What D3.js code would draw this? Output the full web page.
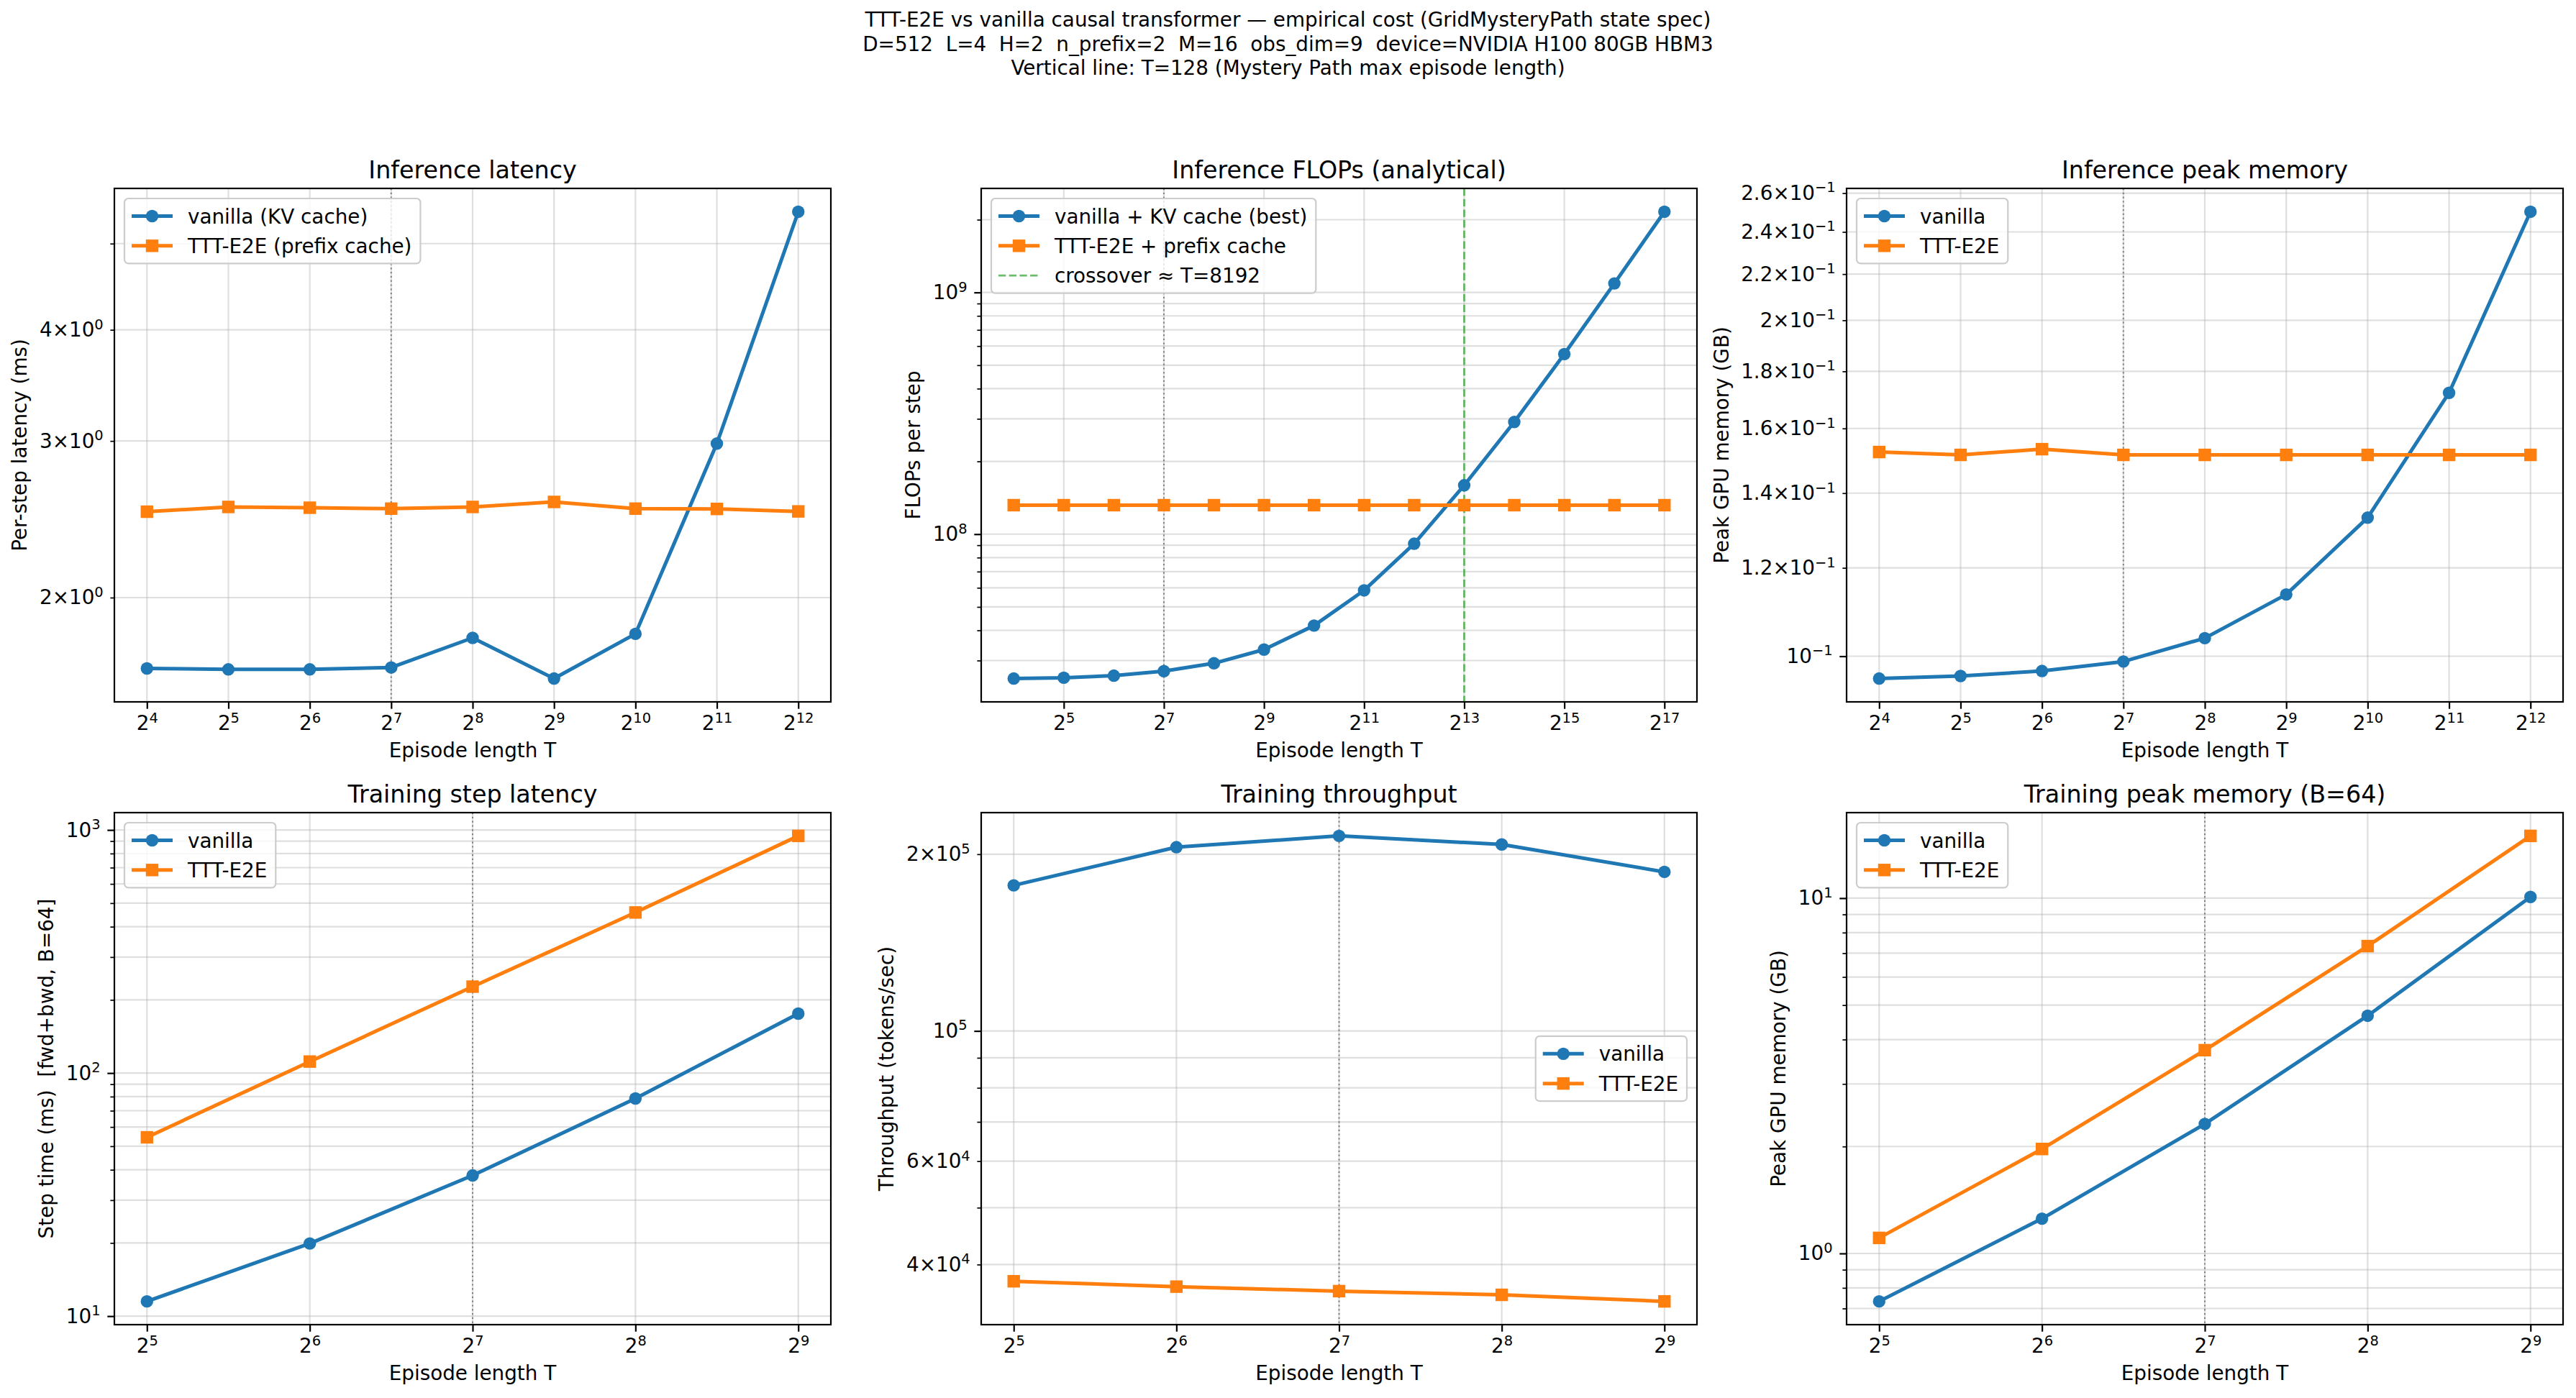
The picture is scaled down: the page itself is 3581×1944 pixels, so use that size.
<!DOCTYPE html>
<html>
<head>
<meta charset="utf-8">
<script src="https://cdn.jsdelivr.net/npm/d3@7"></script>
<style>
    body { margin: 0; background: #fff; }
    svg text { font-family: "DejaVu Sans", sans-serif; fill: #000; white-space: pre; }
</style>
</head>
<body>
<div id="chart"></div>
<script>
'use strict';

/* ---- Data ---- */

// Suptitle
const titleLines = [
    'TTT-E2E vs vanilla causal transformer \u2014 empirical cost (GridMysteryPath state spec)',
    'D=512  L=4  H=2  n_prefix=2  M=16  obs_dim=9  device=NVIDIA H100 80GB HBM3',
    'Vertical line: T=128 (Mystery Path max episode length)'
];

// Episode lengths
const infT = [16, 32, 64, 128, 256, 512, 1024, 2048, 4096];
const flopsT = [16, 32, 64, 128, 256, 512, 1024, 2048, 4096, 8192, 16384, 32768, 65536, 131072];
const trainT = [32, 64, 128, 256, 512];

// Inference latency (ms)
const infLatVanilla = [1.665, 1.661, 1.661, 1.669, 1.802, 1.622, 1.821, 2.98, 5.43];
const infLatTTT = [2.498, 2.529, 2.524, 2.518, 2.529, 2.562, 2.518, 2.516, 2.500];

// Inference FLOPs per step
const flopsVanilla = [2.527e7, 2.547e7, 2.597e7, 2.712e7, 2.923e7, 3.331e7, 4.186e7, 5.853e7,
    9.13e7, 1.593e8, 2.911e8, 5.56e8, 1.09e9, 2.157e9];
const flopsTTT = [1.318e8, 1.318e8, 1.318e8, 1.318e8, 1.318e8, 1.318e8, 1.318e8, 1.318e8,
    1.318e8, 1.318e8, 1.318e8, 1.318e8, 1.318e8, 1.318e8];
const crossoverT = 8192;

// Inference peak memory (GB)
const infMemVanilla = [0.0955, 0.0960, 0.0970, 0.0989, 0.1038, 0.1136, 0.1331, 0.1722, 0.2502];
const infMemTTT = [0.1524, 0.1515, 0.1533, 0.1515, 0.1515, 0.1515, 0.1515, 0.1515, 0.1515];

// Training step latency (ms)
const stepVanilla = [11.5, 19.9, 37.9, 78.6, 175.6];
const stepTTT = [54.4, 111.5, 226.7, 457.7, 945.4];

// Training throughput (tokens/sec)
const thrVanilla = [1.770e5, 2.056e5, 2.149e5, 2.078e5, 1.866e5];
const thrTTT = [3.746e4, 3.668e4, 3.604e4, 3.552e4, 3.462e4];

// Training peak memory (GB)
const trainMemVanilla = [0.733, 1.253, 2.315, 4.667, 10.08];
const trainMemTTT = [1.106, 1.968, 3.734, 7.33, 14.97];

// Reference line
const refT = 128;

// X ticks
const infXTicks = infT;
const infXLabels = ['2^4', '2^5', '2^6', '2^7', '2^8', '2^9', '2^10', '2^11', '2^12'];
const flopsXTicks = [32, 128, 512, 2048, 8192, 32768, 131072];
const flopsXLabels = ['2^5', '2^7', '2^9', '2^11', '2^13', '2^15', '2^17'];
const trainXTicks = trainT;
const trainXLabels = ['2^5', '2^6', '2^7', '2^8', '2^9'];

// Y ticks
const infLatYMinor = [2, 3, 4, 5];
const infLatYMinorLabels = ['2\u00d710^0', '3\u00d710^0', '4\u00d710^0', ''];

const flopsYMajor = [1e8, 1e9];
const flopsYMajorLabels = ['10^8', '10^9'];
const flopsYMinor = [2e7, 3e7, 4e7, 5e7, 6e7, 7e7, 8e7, 9e7, 2e8, 3e8, 4e8, 5e8, 6e8, 7e8, 8e8, 9e8, 2e9, 3e9];

const infMemYMajor = [0.1];
const infMemYMajorLabels = ['10^\u22121'];
const infMemYMinor = [0.12, 0.14, 0.16, 0.18, 0.2, 0.22, 0.24, 0.26];
const infMemYMinorLabels = ['1.2\u00d710^\u22121', '1.4\u00d710^\u22121', '1.6\u00d710^\u22121', '1.8\u00d710^\u22121',
    '2\u00d710^\u22121', '2.2\u00d710^\u22121', '2.4\u00d710^\u22121', '2.6\u00d710^\u22121'];

const stepYMajor = [10, 100, 1000];
const stepYMajorLabels = ['10^1', '10^2', '10^3'];
const stepYMinor = [20, 30, 40, 50, 60, 70, 80, 90, 200, 300, 400, 500, 600, 700, 800, 900];

const thrYMajor = [1e5];
const thrYMajorLabels = ['10^5'];
const thrYMinor = [3e4, 4e4, 5e4, 6e4, 7e4, 8e4, 9e4, 2e5, 3e5];
const thrYMinorLabels = ['', '4\u00d710^4', '', '6\u00d710^4', '', '', '', '2\u00d710^5', ''];

const trainMemYMajor = [1, 10];
const trainMemYMajorLabels = ['10^0', '10^1'];
const trainMemYMinor = [0.6, 0.7, 0.8, 0.9, 2, 3, 4, 5, 6, 7, 8, 9, 20];


/* ---- Style ---- */
const FS = 27.8;          // 10pt at 200 dpi
const FS_TITLE = 33.3;    // 12pt
const BLUE = '#1f77b4';
const ORANGE = '#ff7f0e';
const GREEN = '#2ca02c';


/*
writeMath - base text with one superscript ("a^b")
*/
function writeMath(sel, str) {
    sel.text(null);
    if (!str) return;
    const parts = str.split('^');
    sel.append('tspan').text(parts[0]);
    if (parts.length > 1) {
        sel.append('tspan')
            .attr('dy', -10.5)
            .attr('font-size', FS * 0.7)
            .text(parts[1]);
    }
}


/* `````````````````````````````````\
    Class: CostPanel                |
 ``````````````````````````````````*/
class CostPanel {

    constructor(_svg, _cfg) {
        this.svg = _svg;
        this.cfg = _cfg;
        this.initVis();
    }

    /*
    initVis
    */
    initVis() {
        const vis = this;
        const c = vis.cfg;

        // Axes box
        [vis.left, vis.top, vis.right, vis.bottom] = c.box;
        vis.w = vis.right - vis.left;
        vis.h = vis.bottom - vis.top;

        vis.g = vis.svg.append('g')
            .attr('transform', `translate(${vis.left},${vis.top})`);

        // X scale (log2, 5% margin)
        const lx = c.x.map(Math.log2);
        const xLo = d3.min(lx), xHi = d3.max(lx);
        const xPad = 0.05 * (xHi - xLo);
        vis.x = d3.scaleLog().base(2)
            .domain([2 ** (xLo - xPad), 2 ** (xHi + xPad)])
            .range([0, vis.w]);

        // Y scale (log10, 5% margin)
        const ly = c.series.flatMap(s => s.values).map(Math.log10);
        const yLo = d3.min(ly), yHi = d3.max(ly);
        const yPad = 0.05 * (yHi - yLo);
        vis.y = d3.scaleLog()
            .domain([10 ** (yLo - yPad), 10 ** (yHi + yPad)])
            .range([vis.h, 0]);

        vis.updateVis();
    }

    /*
    updateVis
    */
    updateVis() {
        const vis = this;
        const c = vis.cfg;
        const [yMin, yMax] = vis.y.domain();
        const inY = v => v >= yMin && v <= yMax;

        const yMajor = (c.yMajor || []).filter(inY);
        const yMinor = (c.yMinor || []).filter(inY);
        const labelOf = new Map();
        (c.yMajor || []).forEach((v, i) => labelOf.set(v, c.yMajorLabels ? c.yMajorLabels[i] : ''));
        (c.yMinor || []).forEach((v, i) => labelOf.set(v, c.yMinorLabels ? c.yMinorLabels[i] : ''));

        // Grid
        const grid = vis.g.append('g')
            .attr('stroke', '#b0b0b0')
            .attr('stroke-opacity', 0.4)
            .attr('stroke-width', 2.2);
        grid.selectAll('.gy')
            .data(yMajor.concat(yMinor))
            .join('line')
            .attr('x1', 0).attr('x2', vis.w)
            .attr('y1', d => vis.y(d)).attr('y2', d => vis.y(d));
        grid.selectAll('.gx')
            .data(c.xTicks)
            .join('line')
            .attr('y1', 0).attr('y2', vis.h)
            .attr('x1', d => vis.x(d)).attr('x2', d => vis.x(d));

        // Reference line T=128
        vis.g.append('line')
            .attr('x1', vis.x(refT)).attr('x2', vis.x(refT))
            .attr('y1', 0).attr('y2', vis.h)
            .attr('stroke', '#808080')
            .attr('stroke-width', 2)
            .attr('stroke-dasharray', '2.2,3.6');

        // Crossover line
        if (c.crossover) {
            vis.g.append('line')
                .attr('x1', vis.x(c.crossover)).attr('x2', vis.x(c.crossover))
                .attr('y1', 0).attr('y2', vis.h)
                .attr('stroke', GREEN)
                .attr('stroke-opacity', 0.7)
                .attr('stroke-width', 2.8)
                .attr('stroke-dasharray', '10.3,4.4');
        }

        // Series
        const line = d3.line()
            .x(d => vis.x(d[0]))
            .y(d => vis.y(d[1]));
        c.series.forEach(s => {
            const pts = c.x.map((t, i) => [t, s.values[i]]);
            const sg = vis.g.append('g');
            sg.append('path')
                .attr('d', line(pts))
                .attr('fill', 'none')
                .attr('stroke', s.color)
                .attr('stroke-width', 5)
                .attr('stroke-linejoin', 'round');
            pts.forEach(p => vis.drawMarker(sg, vis.x(p[0]), vis.y(p[1]), s));
        });

        // Spines
        vis.g.append('rect')
            .attr('width', vis.w)
            .attr('height', vis.h)
            .attr('fill', 'none')
            .attr('stroke', '#000')
            .attr('stroke-width', 2.2);

        // X axis
        const xAxis = vis.g.append('g')
            .attr('transform', `translate(0,${vis.h})`)
            .call(d3.axisBottom(vis.x)
                .tickValues(c.xTicks)
                .tickSize(9.7)
                .tickPadding(9.7)
                .tickFormat(() => ''));
        xAxis.select('.domain').remove();
        xAxis.attr('font-size', FS).attr('font-family', null);
        xAxis.selectAll('.tick line').attr('stroke-width', 2.2);
        xAxis.selectAll('.tick text').each(function(d, i) {
            writeMath(d3.select(this), c.xLabels[i]);
        });

        // Y axis (major + minor)
        const yAxes = [[yMajor, 9.7, 2.2], [yMinor, 5.6, 1.7]].map(([vals, len, sw]) => {
            const ax = vis.g.append('g')
                .call(d3.axisLeft(vis.y)
                    .tickValues(vals)
                    .tickSize(len)
                    .tickPadding(9.7)
                    .tickFormat(() => ''));
            ax.select('.domain').remove();
            ax.attr('font-size', FS).attr('font-family', null);
            ax.selectAll('.tick line').attr('stroke-width', sw);
            ax.selectAll('.tick text').each(function(d) {
                writeMath(d3.select(this), labelOf.get(d));
            });
            return ax;
        });

        // Leftmost tick label edge
        let labelsLeft = -15;
        yAxes.forEach(ax => ax.selectAll('.tick text').each(function() {
            if (this.textContent) labelsLeft = Math.min(labelsLeft, this.getBBox().x);
        }));

        // Axis labels
        vis.g.append('text')
            .attr('x', vis.w / 2)
            .attr('y', vis.h + 77)
            .attr('text-anchor', 'middle')
            .attr('font-size', FS)
            .text('Episode length T');
        vis.g.append('text')
            .attr('transform', `translate(${labelsLeft - 11 - 6.6},${vis.h / 2}) rotate(-90)`)
            .attr('text-anchor', 'middle')
            .attr('font-size', FS)
            .attr('xml:space', 'preserve')
            .text(c.ylabel);

        // Title
        vis.g.append('text')
            .attr('x', vis.w / 2)
            .attr('y', -14)
            .attr('text-anchor', 'middle')
            .attr('font-size', FS_TITLE)
            .text(c.title);

        vis.drawLegend();
    }

    /*
    drawMarker
    */
    drawMarker(sel, cx, cy, s) {
        if (s.marker === 'circle') {
            sel.append('circle')
                .attr('cx', cx).attr('cy', cy).attr('r', 8.7)
                .attr('fill', s.color);
        } else if (s.marker === 'square') {
            sel.append('rect')
                .attr('x', cx - 8.7).attr('y', cy - 8.7)
                .attr('width', 17.4).attr('height', 17.4)
                .attr('fill', s.color);
        }
    }

    /*
    drawLegend
    */
    drawLegend() {
        const vis = this;
        const c = vis.cfg;
        const entries = c.series.slice();
        if (c.crossover) entries.push(c.crossoverEntry);

        const rowH = 41.3;
        const lg = vis.g.append('g');
        const frame = lg.append('rect');

        let textW = 0;
        entries.forEach((e, i) => {
            const cy = 24.5 + i * rowH;
            lg.append('line')
                .attr('x1', 10).attr('x2', 67)
                .attr('y1', cy).attr('y2', cy)
                .attr('stroke', e.color)
                .attr('stroke-opacity', e.dashed ? 0.7 : 1)
                .attr('stroke-width', e.dashed ? 2.8 : 5)
                .attr('stroke-dasharray', e.dashed ? '10.3,4.4' : null);
            vis.drawMarker(lg, 38.5, cy, e);
            const t = lg.append('text')
                .attr('x', 88)
                .attr('y', cy + 10)
                .attr('font-size', FS)
                .text(e.name);
            textW = Math.max(textW, t.node().getComputedTextLength());
        });

        const boxW = 88 + textW + 12;
        const boxH = 49 + (entries.length - 1) * rowH;
        frame.attr('width', boxW).attr('height', boxH)
            .attr('rx', 5.5)
            .attr('fill', '#fff').attr('fill-opacity', 0.8)
            .attr('stroke', '#cccccc').attr('stroke-width', 2.2);

        let lx = 14, ly = 14;
        if (c.legend === 'center right') {
            lx = vis.w - 14 - boxW;
            ly = vis.h / 2 - boxH / 2;
        }
        lg.attr('transform', `translate(${lx},${ly})`);
    }
}


/* ---- Build figure ---- */
const svg = d3.select('#chart')
    .append('svg')
    .attr('width', 3581)
    .attr('height', 1944);

svg.append('rect')
    .attr('width', 3581)
    .attr('height', 1944)
    .attr('fill', '#fff');

svg.append('g')
    .selectAll('text')
    .data(titleLines)
    .join('text')
    .attr('x', 3581 / 2)
    .attr('y', (d, i) => 37 + i * 33.5)
    .attr('text-anchor', 'middle')
    .attr('font-size', FS)
    .attr('xml:space', 'preserve')
    .text(d => d);

const cols = [[159, 1155], [1364, 2359], [2567, 3563]];
const rows = [[262, 976], [1130, 1842]];
const box = (r, k) => [cols[k][0], rows[r][0], cols[k][1], rows[r][1]];

const panels = [
    {
        box: box(0, 0), title: 'Inference latency', ylabel: 'Per-step latency (ms)',
        x: infT, xTicks: infXTicks, xLabels: infXLabels,
        yMinor: infLatYMinor, yMinorLabels: infLatYMinorLabels,
        series: [
            {name: 'vanilla (KV cache)', values: infLatVanilla, color: BLUE, marker: 'circle'},
            {name: 'TTT-E2E (prefix cache)', values: infLatTTT, color: ORANGE, marker: 'square'}
        ]
    },
    {
        box: box(0, 1), title: 'Inference FLOPs (analytical)', ylabel: 'FLOPs per step',
        x: flopsT, xTicks: flopsXTicks, xLabels: flopsXLabels,
        yMajor: flopsYMajor, yMajorLabels: flopsYMajorLabels, yMinor: flopsYMinor,
        crossover: crossoverT,
        crossoverEntry: {name: 'crossover \u2248 T=8192', color: GREEN, dashed: true},
        series: [
            {name: 'vanilla + KV cache (best)', values: flopsVanilla, color: BLUE, marker: 'circle'},
            {name: 'TTT-E2E + prefix cache', values: flopsTTT, color: ORANGE, marker: 'square'}
        ]
    },
    {
        box: box(0, 2), title: 'Inference peak memory', ylabel: 'Peak GPU memory (GB)',
        x: infT, xTicks: infXTicks, xLabels: infXLabels,
        yMajor: infMemYMajor, yMajorLabels: infMemYMajorLabels,
        yMinor: infMemYMinor, yMinorLabels: infMemYMinorLabels,
        series: [
            {name: 'vanilla', values: infMemVanilla, color: BLUE, marker: 'circle'},
            {name: 'TTT-E2E', values: infMemTTT, color: ORANGE, marker: 'square'}
        ]
    },
    {
        box: box(1, 0), title: 'Training step latency', ylabel: 'Step time (ms)  [fwd+bwd, B=64]',
        x: trainT, xTicks: trainXTicks, xLabels: trainXLabels,
        yMajor: stepYMajor, yMajorLabels: stepYMajorLabels, yMinor: stepYMinor,
        series: [
            {name: 'vanilla', values: stepVanilla, color: BLUE, marker: 'circle'},
            {name: 'TTT-E2E', values: stepTTT, color: ORANGE, marker: 'square'}
        ]
    },
    {
        box: box(1, 1), title: 'Training throughput', ylabel: 'Throughput (tokens/sec)',
        x: trainT, xTicks: trainXTicks, xLabels: trainXLabels,
        yMajor: thrYMajor, yMajorLabels: thrYMajorLabels,
        yMinor: thrYMinor, yMinorLabels: thrYMinorLabels,
        legend: 'center right',
        series: [
            {name: 'vanilla', values: thrVanilla, color: BLUE, marker: 'circle'},
            {name: 'TTT-E2E', values: thrTTT, color: ORANGE, marker: 'square'}
        ]
    },
    {
        box: box(1, 2), title: 'Training peak memory (B=64)', ylabel: 'Peak GPU memory (GB)',
        x: trainT, xTicks: trainXTicks, xLabels: trainXLabels,
        yMajor: trainMemYMajor, yMajorLabels: trainMemYMajorLabels, yMinor: trainMemYMinor,
        series: [
            {name: 'vanilla', values: trainMemVanilla, color: BLUE, marker: 'circle'},
            {name: 'TTT-E2E', values: trainMemTTT, color: ORANGE, marker: 'square'}
        ]
    }
];

panels.forEach(cfg => new CostPanel(svg, cfg));
</script>
</body>
</html>
